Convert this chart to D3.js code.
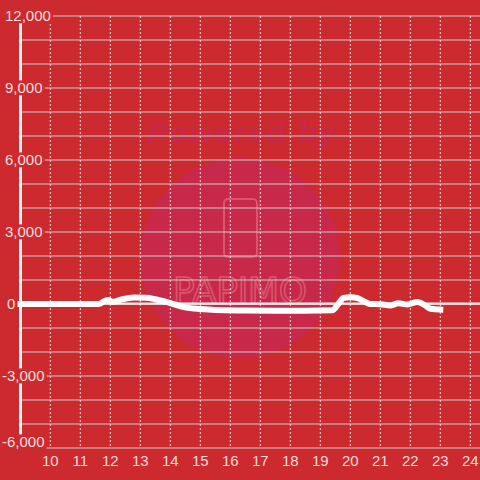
<!DOCTYPE html>
<html>
<head>
<meta charset="utf-8">
<script src="https://cdn.jsdelivr.net/npm/d3@7"></script>
<style>
  html, body { margin: 0; padding: 0; background: #cc2a2f; }
  svg { display: block; }
</style>
</head>
<body>
<div id="chart"></div>
<script>
// ---- data ----
const hours  = [9, 11.6, 11.9, 12.1, 12.4, 12.8, 13.2, 13.5, 14.0, 14.5, 15.0, 15.5, 16.5, 17.5, 18.5, 19.4, 19.6, 19.77, 20.0, 20.23, 20.5, 20.67, 21.0, 21.33, 21.6, 21.9, 22.23, 22.5, 22.67, 23.0];
const values = [0, 0, 170, 90, 200, 270, 260, 200, 40, -140, -210, -250, -270, -280, -280, -260, 0, 250, 280, 250, 80, 0, -10, -60, 30, -20, 80, -60, -200, -230];
const xTicks = [10, 11, 12, 13, 14, 15, 16, 17, 18, 19, 20, 21, 22, 23, 24];
const yTicks = [12000, 9000, 6000, 3000, 0, -3000, -6000];
const yGrid  = d3.range(-6000, 12001, 1000);

const W = 480, H = 480;
const BG = "#cc2a2f";
const svg = d3.select("#chart").append("svg").attr("width", W).attr("height", H);
svg.append("rect").attr("width", W).attr("height", H).attr("fill", BG);

const x = d3.scaleLinear().domain([9, 24]).range([20.3, 470.3]);
const y = d3.scaleLinear().domain([-6000, 12000]).range([448, 16]);

// ---- watermark ----
const wm = svg.append("g");
wm.append("circle").attr("cx", 240).attr("cy", 258).attr("r", 100).attr("fill", "#c8284a");
wm.append("text").attr("x", 148).attr("y", 143).attr("textLength", 187)
  .attr("font-family", "Liberation Sans, Arial, sans-serif").attr("font-weight", "bold")
  .attr("font-style", "italic").attr("font-size", 29).attr("fill", "#c8284a").text("Powered by");
wm.append("rect").attr("x", 224).attr("y", 199).attr("width", 33).attr("height", 58).attr("rx", 4)
  .attr("fill", "none").attr("stroke", "#d9566b").attr("stroke-width", 2);
wm.append("text").attr("x", 173).attr("y", 303).attr("textLength", 134)
  .attr("font-family", "DejaVu Sans, sans-serif").attr("font-size", 36)
  .attr("fill", "none").attr("stroke", "#d9566b").attr("stroke-width", 1.6).text("PAPIMO");

// ---- grid ----
svg.append("g").selectAll("line").data(yGrid).join("line")
  .attr("x1", 20).attr("x2", W).attr("y1", d => y(d)).attr("y2", d => y(d))
  .attr("stroke", "#c9cbc8").attr("stroke-width", 1.2);
svg.append("g").selectAll("line").data(xTicks).join("line")
  .attr("x1", d => x(d)).attr("x2", d => x(d)).attr("y1", 16).attr("y2", 448)
  .attr("stroke", "#dfe3df").attr("stroke-width", 1).attr("stroke-dasharray", "2,2");

// zero line
svg.append("line").attr("x1", 20).attr("x2", W).attr("y1", y(0) - 0.3).attr("y2", y(0) - 0.3)
  .attr("stroke", "#f2f2f2").attr("stroke-width", 2.2);

// y axis line
svg.append("line").attr("x1", 20.5).attr("x2", 20.5).attr("y1", 16).attr("y2", 448)
  .attr("stroke", "#f4f4f4").attr("stroke-width", 3);

// ---- data line ----
const line = d3.line().x((d, i) => x(hours[i])).y(d => y(d)).curve(d3.curveMonotoneX);
svg.append("path").datum(values).attr("d", line)
  .attr("fill", "none").attr("stroke", "#ffffff").attr("stroke-width", 6)
  .attr("stroke-linecap", "square").attr("stroke-linejoin", "round");

// ---- y labels with background ----
const fmt = v => d3.format(",")(v).replace("\u2212", "-");
const yl = svg.append("g");
yTicks.forEach(d => {
  const g = yl.append("g");
  const ty = d === -6000 ? y(d) - 6 : y(d);
  const tx = d < 0 ? 2 : (d === 0 ? 7 : 5);
  const t = g.append("text").attr("x", tx).attr("y", ty).attr("dy", "0.36em")
    .attr("font-family", "Liberation Sans, Arial, sans-serif").attr("font-size", 15)
    .attr("fill", "#f6dede").text(fmt(d));
  const b = t.node().getBBox();
  g.insert("rect", "text").attr("x", b.x - 2).attr("y", b.y + 1).attr("width", b.width + 4)
    .attr("height", b.height - 2).attr("fill", BG);
});

// ---- x labels ----
svg.append("g").selectAll("text").data(xTicks).join("text")
  .attr("x", d => x(d)).attr("y", 466).attr("text-anchor", "middle")
  .attr("font-family", "Liberation Sans, Arial, sans-serif").attr("font-size", 15)
  .attr("fill", "#f6dede").text(d => d);
</script>
</body>
</html>
